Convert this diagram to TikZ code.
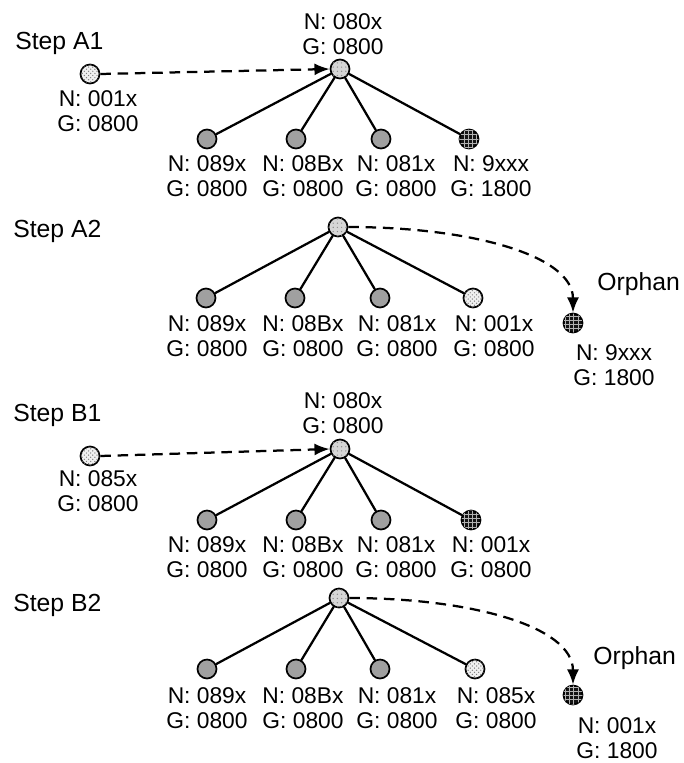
\documentclass[tikz,border=0pt]{standalone}
\usepackage{fontspec}
\setmainfont{Liberation Sans}
\usetikzlibrary{arrows.meta,patterns}
\definecolor{RootFill}{HTML}{D6D6D6}
\definecolor{OldFill}{HTML}{A0A0A0}
\definecolor{NewFill}{HTML}{F0F0F0}
\definecolor{OrphanFill}{HTML}{141414}

\begin{document}
\begin{tikzpicture}[x=1cm,y=1cm, line cap=round, line join=round, >={Latex[length=3.8mm,width=3mm]},
  treenode/.style={circle, draw=black, line width=1.2pt, inner sep=0pt, minimum size=0.475cm},
  rootnode/.style={treenode, fill=RootFill, postaction={pattern=dots, pattern color=gray!90}},
  oldnode/.style={treenode, fill=OldFill},
  newnode/.style={treenode, fill=NewFill, postaction={pattern=crosshatch dots, pattern color=gray}},
  orphannode/.style={treenode, fill=OrphanFill, postaction={pattern=grid, pattern color=gray!60}},
  info/.style={align=center, inner sep=0pt, font=\fontsize{16.2}{17.8}\selectfont},
  steptxt/.style={anchor=west, inner sep=0pt, font=\fontsize{17.6}{20}\selectfont},
  link/.style={line width=1.6pt},
  movearrow/.style={->, line width=1.6pt, line cap=butt, dash pattern=on 7.5pt off 4.8pt}]

\useasboundingbox (0,0) rectangle (17.075,-19.075);

% step A1
\node[steptxt] (a1step) at (0.375,-1.075) {Step A1};
\node[newnode] (a1in) at (2.25,-1.85) {};
\node[info] (a1inlbl) at (2.45,-2.775) {N: 001x\\G: 0800};
\node[rootnode] (a1root) at (8.5,-1.725) {};
\node[info] (a1rootlbl) at (8.575,-0.85) {N: 080x\\G: 0800};
\node[oldnode] (a1c1) at (5.175,-3.475) {};
\node[oldnode] (a1c2) at (7.4,-3.475) {};
\node[oldnode] (a1c3) at (9.525,-3.475) {};
\node[orphannode] (a1c4) at (11.725,-3.475) {};
\node[info] (a1l1) at (5.175,-4.41) {N: 089x\\G: 0800};
\node[info] (a1l2) at (7.575,-4.41) {N: 08Bx\\G: 0800};
\node[info] (a1l3) at (9.9,-4.41) {N: 081x\\G: 0800};
\node[info] (a1l4) at (12.275,-4.41) {N: 9xxx\\G: 1800};
\draw[link] (a1root) -- (a1c1);
\draw[link] (a1root) -- (a1c2);
\draw[link] (a1root) -- (a1c3);
\draw[link] (a1root) -- (a1c4);
\draw[movearrow] (a1in.east) -- (a1root.west);

% step A2
\node[steptxt] (a2step) at (0.325,-5.775) {Step A2};
\node[rootnode] (a2root) at (8.45,-5.675) {};
\node[oldnode] (a2c1) at (5.15,-7.45) {};
\node[oldnode] (a2c2) at (7.375,-7.45) {};
\node[oldnode] (a2c3) at (9.5,-7.45) {};
\node[newnode] (a2c4) at (11.825,-7.45) {};
\node[info] (a2l1) at (5.175,-8.4125) {N: 089x\\G: 0800};
\node[info] (a2l2) at (7.575,-8.4125) {N: 08Bx\\G: 0800};
\node[info] (a2l3) at (9.925,-8.4125) {N: 081x\\G: 0800};
\node[info] (a2l4) at (12.35,-8.4125) {N: 001x\\G: 0800};
\node[orphannode] (a2orph) at (14.325,-8.075) {};
\node[steptxt] (a2orphtxt) at (14.925,-7.1) {Orphan};
\node[info] (a2orphlbl) at (15.35,-9.125) {N: 9xxx\\G: 1800};
\draw[link] (a2root) -- (a2c1);
\draw[link] (a2root) -- (a2c2);
\draw[link] (a2root) -- (a2c3);
\draw[link] (a2root) -- (a2c4);
\draw[movearrow] (a2root.east) .. controls (11.75,-5.675) and (14.325,-6.375) .. (a2orph.north);

% step B1
\node[steptxt] (b1step) at (0.325,-10.375) {Step B1};
\node[newnode] (b1in) at (2.25,-11.4) {};
\node[info] (b1inlbl) at (2.45,-12.275) {N: 085x\\G: 0800};
\node[rootnode] (b1root) at (8.5,-11.225) {};
\node[info] (b1rootlbl) at (8.575,-10.325) {N: 080x\\G: 0800};
\node[oldnode] (b1c1) at (5.175,-13.0) {};
\node[oldnode] (b1c2) at (7.4,-13.0) {};
\node[oldnode] (b1c3) at (9.525,-13.0) {};
\node[orphannode] (b1c4) at (11.775,-13.0) {};
\node[info] (b1l1) at (5.175,-13.9375) {N: 089x\\G: 0800};
\node[info] (b1l2) at (7.575,-13.9375) {N: 08Bx\\G: 0800};
\node[info] (b1l3) at (9.9,-13.9375) {N: 081x\\G: 0800};
\node[info] (b1l4) at (12.275,-13.9375) {N: 001x\\G: 0800};
\draw[link] (b1root) -- (b1c1);
\draw[link] (b1root) -- (b1c2);
\draw[link] (b1root) -- (b1c3);
\draw[link] (b1root) -- (b1c4);
\draw[movearrow] (b1in.east) -- (b1root.west);

% step B2
\node[steptxt] (b2step) at (0.325,-15.125) {Step B2};
\node[rootnode] (b2root) at (8.475,-14.95) {};
\node[oldnode] (b2c1) at (5.175,-16.725) {};
\node[oldnode] (b2c2) at (7.4,-16.725) {};
\node[oldnode] (b2c3) at (9.5,-16.725) {};
\node[newnode] (b2c4) at (11.875,-16.725) {};
\node[info] (b2l1) at (5.175,-17.7) {N: 089x\\G: 0800};
\node[info] (b2l2) at (7.575,-17.7) {N: 08Bx\\G: 0800};
\node[info] (b2l3) at (9.925,-17.7) {N: 081x\\G: 0800};
\node[info] (b2l4) at (12.4,-17.7) {N: 085x\\G: 0800};
\node[orphannode] (b2orph) at (14.325,-17.375) {};
\node[steptxt] (b2orphtxt) at (14.825,-16.45) {Orphan};
\node[info] (b2orphlbl) at (15.425,-18.45) {N: 001x\\G: 1800};
\draw[link] (b2root) -- (b2c1);
\draw[link] (b2root) -- (b2c2);
\draw[link] (b2root) -- (b2c3);
\draw[link] (b2root) -- (b2c4);
\draw[movearrow] (b2root.east) .. controls (11.75,-14.95) and (14.325,-15.65) .. (b2orph.north);

\end{tikzpicture}
\end{document}
